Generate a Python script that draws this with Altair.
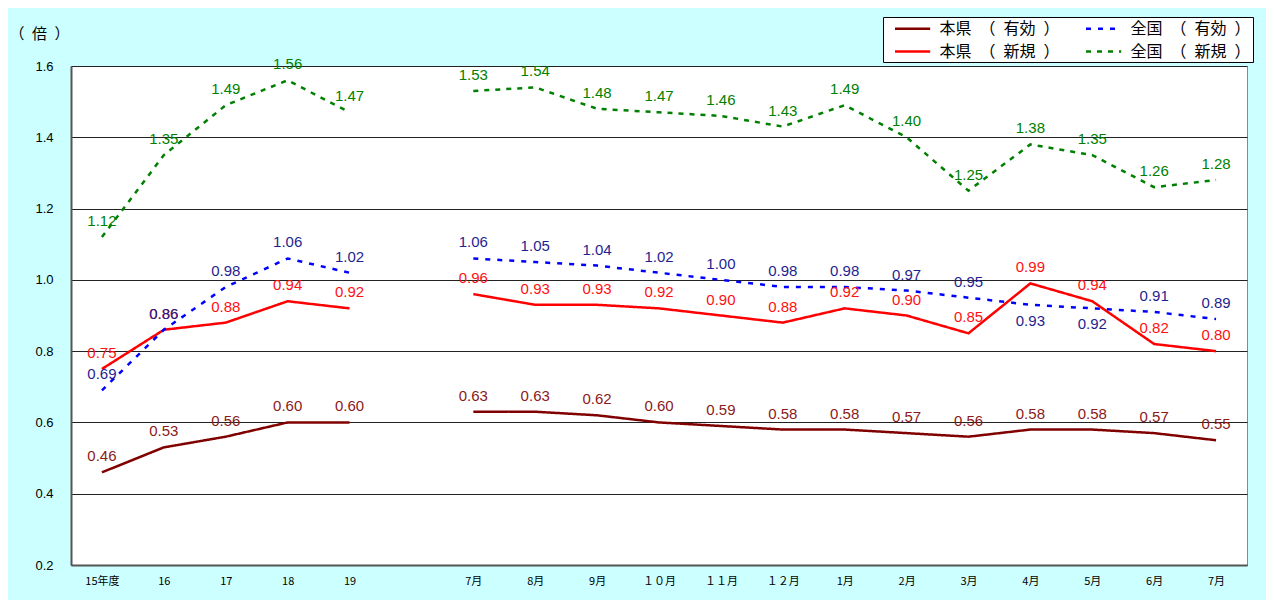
import altair as alt
import pandas as pd

# ---- data ----
x_labels = ["15年度", "16", "17", "18", "19", "",
            "7月", "8月", "9月", "１０月", "１１月", "１２月",
            "1月", "2月", "3月", "4月", "5月", "6月", "7月"]
fy_idx = [0, 1, 2, 3, 4]
month_idx = [6, 7, 8, 9, 10, 11, 12, 13, 14, 15, 16, 17, 18]

SP = "\u2002"
KEN_YUKO = "本県" + SP + "（" + SP + "有効" + SP + "）"
KEN_SHINKI = "本県" + SP + "（" + SP + "新規" + SP + "）"
ZEN_YUKO = "全国" + SP + "（" + SP + "有効" + SP + "）"
ZEN_SHINKI = "全国" + SP + "（" + SP + "新規" + SP + "）"
# legend is filled column by column
series_names = [KEN_YUKO, KEN_SHINKI, ZEN_YUKO, ZEN_SHINKI]

ken_yuko_fy = [0.46, 0.53, 0.56, 0.60, 0.60]
ken_yuko_m = [0.63, 0.63, 0.62, 0.60, 0.59, 0.58, 0.58, 0.57, 0.56, 0.58, 0.58, 0.57, 0.55]
ken_shinki_fy = [0.75, 0.86, 0.88, 0.94, 0.92]
ken_shinki_m = [0.96, 0.93, 0.93, 0.92, 0.90, 0.88, 0.92, 0.90, 0.85, 0.99, 0.94, 0.82, 0.80]
zen_yuko_fy = [0.69, 0.86, 0.98, 1.06, 1.02]
zen_yuko_m = [1.06, 1.05, 1.04, 1.02, 1.00, 0.98, 0.98, 0.97, 0.95, 0.93, 0.92, 0.91, 0.89]
zen_shinki_fy = [1.12, 1.35, 1.49, 1.56, 1.47]
zen_shinki_m = [1.53, 1.54, 1.48, 1.47, 1.46, 1.43, 1.49, 1.40, 1.25, 1.38, 1.35, 1.26, 1.28]

# styles
line_colors = ["#800000", "#ff0000", "#0000ff", "#008000"]
label_colors = {KEN_YUKO: "#8b1a1a", ZEN_YUKO: "#1f1f8f",
                KEN_SHINKI: "#ff1010", ZEN_SHINKI: "#008000"}
dashes = [[1, 0], [1, 0], [5, 7], [5, 6]]
widths = [2.5, 2.5, 3, 3]
labels_below = {(ZEN_YUKO, 15), (ZEN_YUKO, 16)}

rows = []
for name, fy, m in [
    (KEN_YUKO, ken_yuko_fy, ken_yuko_m),
    (KEN_SHINKI, ken_shinki_fy, ken_shinki_m),
    (ZEN_YUKO, zen_yuko_fy, zen_yuko_m),
    (ZEN_SHINKI, zen_shinki_fy, zen_shinki_m),
]:
    for i, v in zip(fy_idx, fy):
        rows.append({"series": name, "idx": i, "value": v, "period": "fy"})
    for i, v in zip(month_idx, m):
        rows.append({"series": name, "idx": i, "value": v, "period": "m"})
df = pd.DataFrame(rows)
df["lcolor"] = df["series"].map(label_colors)
df["pos"] = ["below" if (s, i) in labels_below else "above" for s, i in zip(df["series"], df["idx"])]

label_expr = "[" + ",".join("'" + l + "'" for l in x_labels) + "][datum.value]"

x_enc = alt.X("idx:O", scale=alt.Scale(domain=list(range(len(x_labels)))),
              axis=alt.Axis(title=None, labelExpr=label_expr, labelAngle=0,
                            labelFont="Noto Sans CJK JP", labelFontSize=11,
                            labelColor="black", labelPadding=10, ticks=False,
                            domainColor="#555555", domainWidth=2, grid=False))
y_enc = alt.Y("value:Q", scale=alt.Scale(domain=[0.2, 1.6], nice=False, zero=False),
              axis=alt.Axis(values=[0.2, 0.4, 0.6, 0.8, 1.0, 1.2, 1.4, 1.6], format=".1f",
                            title="（" + SP + "倍" + SP + "）", titleAngle=0, titleX=-62, titleY=-33,
                            titleAlign="left", titleBaseline="middle",
                            titleFont="Noto Sans CJK JP", titleFontSize=15,
                            titleFontWeight="normal", titleColor="black",
                            labelFont="Liberation Sans", labelFontSize=13,
                            labelColor="black", labelPadding=18, ticks=False,
                            domainColor="#555555", domainWidth=2,
                            grid=True, gridColor="#222222", gridWidth=1))

legend = alt.Legend(title=None, orient="none", legendX=812, legendY=-49,
                    columns=2, symbolType="M-1,0H3.4", symbolSize=256,
                    symbolStrokeWidth=2.5, symbolOffset=8.5,
                    labelOffset=27, labelFont="Noto Sans CJK JP",
                    labelFontSize=16, labelColor="black", labelLimit=400,
                    fillColor="white", strokeColor="black", padding=2,
                    columnPadding=16, rowPadding=5)

base = alt.Chart(df)

lines = base.mark_line().encode(
    x=x_enc,
    y=y_enc,
    detail="period:N",
    color=alt.Color("series:N", scale=alt.Scale(domain=series_names, range=line_colors),
                    legend=legend),
    strokeDash=alt.StrokeDash("series:N", scale=alt.Scale(domain=series_names, range=dashes),
                              legend=legend),
    strokeWidth=alt.StrokeWidth("series:N", scale=alt.Scale(domain=series_names, range=widths),
                                legend=None),
)

txt_above = base.transform_filter(alt.datum.pos == "above").mark_text(
    dy=-16, font="Liberation Sans", fontSize=15
).encode(x=x_enc, y=y_enc, text=alt.Text("value:Q", format=".2f"),
         color=alt.Color("lcolor:N", scale=None))

txt_below = base.transform_filter(alt.datum.pos == "below").mark_text(
    dy=16, font="Liberation Sans", fontSize=15
).encode(x=x_enc, y=y_enc, text=alt.Text("value:Q", format=".2f"),
         color=alt.Color("lcolor:N", scale=None))

chart = alt.layer(lines, txt_above, txt_below).properties(
    width=1176, height=499,
    autosize="none",
    padding={"left": 63, "top": 58, "right": 19, "bottom": 35},
    background="#ccffff",
).configure_view(stroke="#888888", strokeWidth=1, fill="white")

chart.save("out.html", embed_options={"renderer": "svg", "actions": False})
